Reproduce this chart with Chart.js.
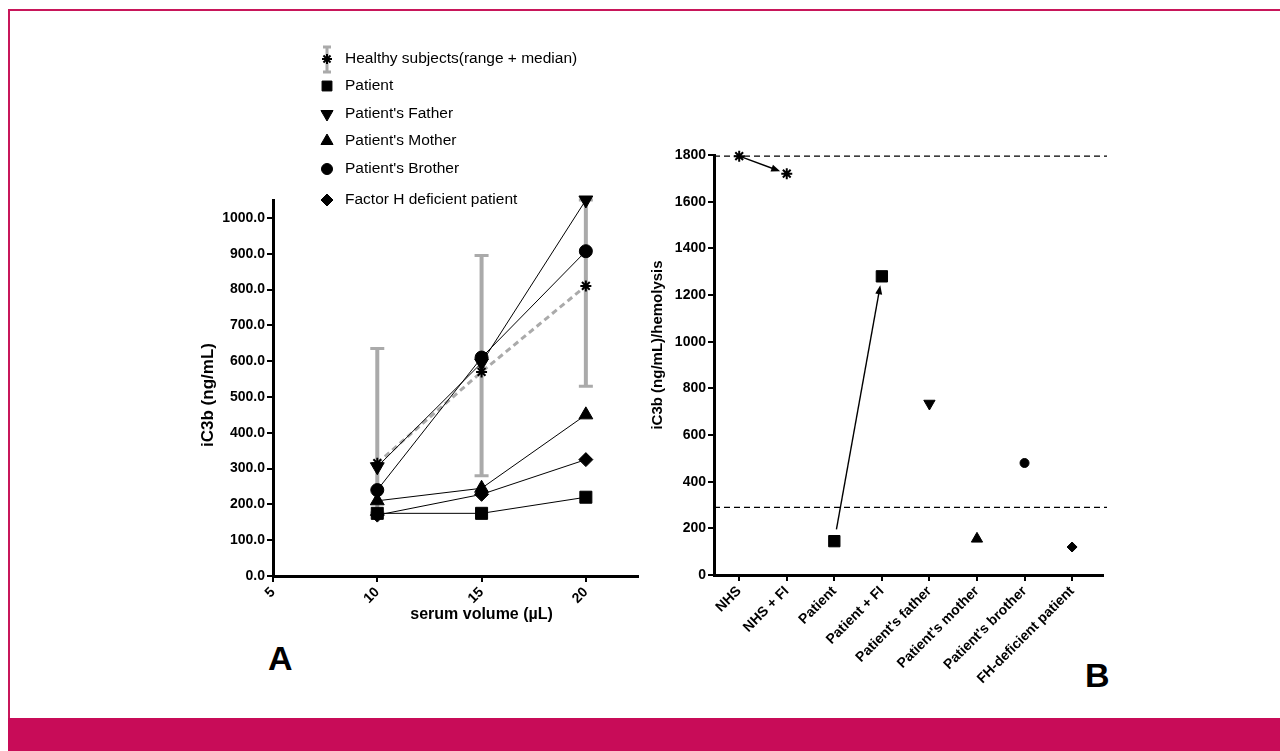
<!DOCTYPE html>
<html>
<head>
<meta charset="utf-8">
<script src="https://cdn.jsdelivr.net/npm/chart.js@4.4.0/dist/chart.umd.min.js"></script>
<style>
  body { margin: 0; background: #fff; width: 1280px; height: 751px; overflow: hidden; position: relative;
         font-family: "Liberation Sans", Arial, sans-serif; }
  .frame { position: absolute; left: 8px; top: 9px; width: 1272px; height: 709px;
           border-top: 2px solid #c8165a; border-left: 2px solid #c8165a; box-sizing: border-box; }
  .band { position: absolute; left: 8px; top: 718px; width: 1272px; height: 33px; background: #c80c58; }
  .panel { position: absolute; font-weight: bold; font-size: 34px; line-height: 1; color: #000; }
  canvas { position: absolute; }
</style>
</head>
<body>
<div class="frame"></div>
<div class="band"></div>
<div class="panel" style="left:268px;top:641px">A</div>
<div class="panel" style="left:1085px;top:658px">B</div>
<canvas id="chartA" width="510" height="620" style="left:150px;top:30px"></canvas>
<canvas id="chartB" width="540" height="600" style="left:600px;top:120px"></canvas>
<script>
// panel A: iC3b vs serum volume
const volumes = [10, 15, 20];
const healthyMedian = [315, 570, 810];
const healthyLow = [176, 280, 530];
const healthyHigh = [635, 895, 1050];
const patient = [175, 175, 220];
const father = [305, 595, 1050];
const mother = [210, 245, 450];
const brother = [240, 610, 907];
const fhDeficient = [170, 228, 325];

// panel B: iC3b per hemolysis
const groups = ['NHS', 'NHS + FI', 'Patient', 'Patient + FI', "Patient's father",
                "Patient's mother", "Patient's brother", 'FH-deficient patient'];
const perHemolysis = [1795, 1720, 145, 1280, 735, 155, 480, 120];
const normalLimits = [1795, 290];
const arrowPairs = [[0, 1], [2, 3]];

const FONT = "'Liberation Sans', Arial, sans-serif";
const tickFont = { family: FONT, size: 14, weight: 'bold' };

function pts(ys) {
  return volumes.map((v, i) => ({ x: v, y: ys[i] }));
}

function series(label, ys, style, radius, rotation) {
  return {
    label: label, data: pts(ys), borderColor: '#000', borderWidth: 1,
    pointStyle: style, pointRadius: radius, pointRotation: rotation || 0,
    pointBackgroundColor: '#000', pointBorderColor: '#000', pointBorderWidth: 1,
    clip: false
  };
}

function rotatedText(ctx, text, x, y, size) {
  ctx.save();
  ctx.translate(x, y);
  ctx.rotate(-Math.PI / 2);
  ctx.font = 'bold ' + size + 'px ' + FONT;
  ctx.fillStyle = '#000';
  ctx.textAlign = 'center';
  ctx.textBaseline = 'middle';
  ctx.fillText(text, 0, 0);
  ctx.restore();
}

const errorBars = {
  id: 'errorBars',
  beforeDatasetsDraw(chart) {
    const { ctx, scales: { x, y } } = chart;
    ctx.save();
    ctx.strokeStyle = '#aaaaaa';
    volumes.forEach((v, i) => {
      const px = x.getPixelForValue(v);
      const lo = y.getPixelForValue(healthyLow[i]);
      const hi = y.getPixelForValue(healthyHigh[i]);
      ctx.lineWidth = 4;
      ctx.beginPath(); ctx.moveTo(px, lo); ctx.lineTo(px, hi); ctx.stroke();
      ctx.lineWidth = 3;
      ctx.beginPath();
      ctx.moveTo(px - 7, lo); ctx.lineTo(px + 7, lo);
      ctx.moveTo(px - 7, hi); ctx.lineTo(px + 7, hi);
      ctx.stroke();
    });
    ctx.restore();
  }
};

// legend and axis titles of panel A
const legendRows = [29, 56, 84, 111, 139, 170];
const legendA = {
  id: 'legendA',
  afterDraw(chart) {
    const { ctx, chartArea, scales: { x } } = chart;
    const mx = 177, tx = 195;
    ctx.save();
    ctx.font = '15.5px ' + FONT;
    ctx.textBaseline = 'middle';
    ctx.fillStyle = '#000';
    ctx.strokeStyle = '#000';
    const sizes = [5, 7, 7, 7, 5.5, 6];
    const ds = chart.data.datasets;
    const order = [5, 0, 1, 2, 3, 4];
    order.forEach((di, row) => {
      const d = ds[di];
      const y = legendRows[row];
      if (di === 5) {
        ctx.save();
        ctx.strokeStyle = '#aaaaaa';
        ctx.lineWidth = 3;
        ctx.beginPath();
        ctx.moveTo(mx, y - 12); ctx.lineTo(mx, y + 13);
        ctx.moveTo(mx - 4, y - 12); ctx.lineTo(mx + 4, y - 12);
        ctx.moveTo(mx - 4, y + 13); ctx.lineTo(mx + 4, y + 13);
        ctx.stroke();
        ctx.restore();
      }
      ctx.lineWidth = di === 5 ? 2 : 1;
      Chart.helpers.drawPoint(ctx, {
        pointStyle: d.pointStyle, radius: sizes[row], rotation: d.pointRotation,
        borderWidth: ctx.lineWidth
      }, mx, y);
      ctx.fillText(d.label, tx, y);
    });
    // x axis title, centred under the middle volume
    ctx.font = 'bold 16px ' + FONT;
    ctx.textAlign = 'center';
    ctx.fillText('serum volume (µL)', x.getPixelForValue(volumes[1]), chartArea.bottom + 39);
    ctx.restore();
    rotatedText(ctx, 'iC3b (ng/mL)', 58, (chartArea.top + chartArea.bottom) / 2 + 7, 17);
  }
};

new Chart(document.getElementById('chartA'), {
  type: 'line',
  data: {
    datasets: [
      series('Patient', patient, 'rect', 8.5),
      series("Patient's Father", father, 'triangle', 8, 180),
      series("Patient's Mother", mother, 'triangle', 8),
      series("Patient's Brother", brother, 'circle', 6.5),
      series('Factor H deficient patient', fhDeficient, 'rectRot', 7),
      {
        label: 'Healthy subjects(range + median)', data: pts(healthyMedian),
        borderColor: '#aaaaaa', borderWidth: 3, borderDash: [6, 4],
        pointStyle: 'star', pointRadius: 5.5, pointBorderColor: '#000', pointBorderWidth: 2,
        clip: false, order: 10
      }
    ]
  },
  options: {
    responsive: false,
    animation: false,
    layout: { padding: { left: 0, top: 170, right: 22, bottom: 0 } },
    plugins: { legend: { display: false }, tooltip: { enabled: false } },
    scales: {
      x: {
        type: 'linear', min: 5, max: 22.5,
        afterBuildTicks: s => { s.ticks = s.ticks.filter(t => t.value % 5 === 0); },
        afterFit: s => { s.height = 74; },
        ticks: { stepSize: 5, color: '#000', font: tickFont, minRotation: 45, maxRotation: 45, padding: 2 },
        grid: { drawOnChartArea: false, color: '#000', lineWidth: 2, tickLength: 6 },
        border: { color: '#000', width: 3 }
      },
      y: {
        min: 0, max: 1050,
        afterBuildTicks: s => { s.ticks = s.ticks.filter(t => t.value % 100 === 0); },
        afterFit: s => { s.width = 123; },
        ticks: { stepSize: 100, color: '#000', font: tickFont, padding: 2,
                 callback: v => v.toFixed(1) },
        grid: { drawOnChartArea: false, color: '#000', lineWidth: 2, tickLength: 6 },
        border: { color: '#000', width: 3 }
      }
    }
  },
  plugins: [errorBars, legendA]
});

const overlayB = {
  id: 'overlayB',
  beforeDatasetsDraw(chart) {
    const { ctx, chartArea, scales: { x, y } } = chart;
    ctx.save();
    ctx.strokeStyle = '#000';
    ctx.fillStyle = '#000';
    ctx.lineWidth = 1.3;
    ctx.setLineDash([6, 4]);
    normalLimits.forEach(v => {
      const py = y.getPixelForValue(v);
      ctx.beginPath(); ctx.moveTo(chartArea.left, py); ctx.lineTo(chartArea.right + 4, py); ctx.stroke();
    });
    ctx.setLineDash([]);
    arrowPairs.forEach(([a, b], k) => {
      const x0 = x.getPixelForValue(a), y0 = y.getPixelForValue(perHemolysis[a]);
      const x1 = x.getPixelForValue(b), y1 = y.getPixelForValue(perHemolysis[b]);
      const len = Math.hypot(x1 - x0, y1 - y0);
      const dx = (x1 - x0) / len, dy = (y1 - y0) / len;
      const s0 = k === 0 ? 3 : 12, s1 = k === 0 ? 7 : 9, head = 9, half = 3.5;
      const sx = x0 + dx * s0, sy = y0 + dy * s0;
      const ex = x1 - dx * s1, ey = y1 - dy * s1;
      ctx.lineWidth = 1.4;
      ctx.beginPath(); ctx.moveTo(sx, sy); ctx.lineTo(ex - dx * head * 0.8, ey - dy * head * 0.8); ctx.stroke();
      ctx.beginPath();
      ctx.moveTo(ex, ey);
      ctx.lineTo(ex - dx * head - dy * half, ey - dy * head + dx * half);
      ctx.lineTo(ex - dx * head + dy * half, ey - dy * head - dx * half);
      ctx.closePath();
      ctx.fill();
    });
    ctx.restore();
  },
  afterDraw(chart) {
    rotatedText(chart.ctx, 'iC3b (ng/mL)/hemolysis', 58, 225, 15);
  }
};

new Chart(document.getElementById('chartB'), {
  type: 'scatter',
  data: {
    datasets: [{
      data: groups.map((g, i) => ({ x: i, y: perHemolysis[i] })),
      pointStyle: ['star', 'star', 'rect', 'rect', 'triangle', 'triangle', 'circle', 'rectRot'],
      pointRotation: [0, 0, 0, 0, 180, 0, 0, 0],
      pointRadius: [5.5, 5.5, 8, 8, 6.5, 6.5, 4.5, 5],
      pointBorderWidth: [2, 2, 1, 1, 1, 1, 1, 1],
      pointBackgroundColor: '#000', pointBorderColor: '#000',
      clip: false
    }]
  },
  options: {
    responsive: false,
    animation: false,
    layout: { padding: { left: 0, top: 35, right: 37, bottom: 0 } },
    plugins: { legend: { display: false }, tooltip: { enabled: false } },
    scales: {
      x: {
        type: 'linear', min: -0.53, max: 7.65,
        afterBuildTicks: s => { s.ticks = groups.map((g, i) => ({ value: i })); },
        afterFit: s => { s.height = 145; },
        ticks: { color: '#000', font: tickFont, minRotation: 45, maxRotation: 45, padding: 2,
                 autoSkip: false, callback: v => groups[v] },
        grid: { drawOnChartArea: false, color: '#000', lineWidth: 2, tickLength: 6 },
        border: { color: '#000', width: 3 }
      },
      y: {
        min: 0, max: 1800,
        afterFit: s => { s.width = 114; },
        ticks: { stepSize: 200, color: '#000', font: tickFont, padding: 2, callback: v => String(v) },
        grid: { drawOnChartArea: false, color: '#000', lineWidth: 2, tickLength: 6 },
        border: { color: '#000', width: 3 }
      }
    }
  },
  plugins: [overlayB]
});
</script>
</body>
</html>
